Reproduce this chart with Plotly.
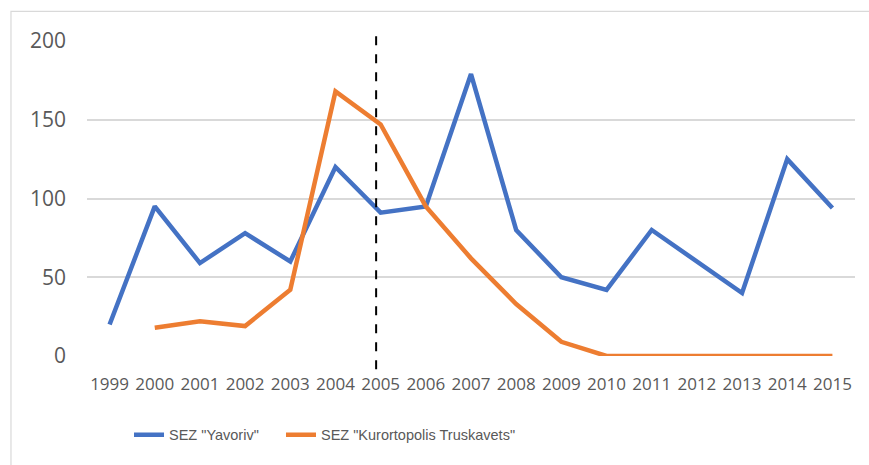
import plotly.graph_objects as go

years = [str(y) for y in range(1999, 2016)]
yavoriv = [20, 95, 59, 78, 60, 120, 91, 95, 179, 80, 50, 42, 80, 60, 40, 125, 94]
truskavets = [None, 18, 22, 19, 42, 168, 147, 95, 62, 33, 9, 0, 0, 0, 0, 0, 0]
y_ticks = [0, 50, 100, 150, 200]
marker_year_index = 5.9  # position of the dashed divider (just before 2005's centre)

BLUE = "#4472C4"
ORANGE = "#ED7D31"
GRID = "#D9D9D9"
TEXT = "#595959"

fig = go.Figure()
fig.add_trace(go.Scatter(
    x=years, y=yavoriv, mode="lines", name='SEZ "Yavoriv"',
    line=dict(color=BLUE, width=4.5), legend="legend",
))
fig.add_trace(go.Scatter(
    x=years, y=truskavets, mode="lines", name='SEZ "Kurortopolis Truskavets"',
    line=dict(color=ORANGE, width=4.5), legend="legend2",
))

# dashed divider at 2005
fig.add_shape(type="line", xref="x", yref="paper",
              x0=marker_year_index, x1=marker_year_index, y0=1.015, y1=-0.054,
              line=dict(color="black", width=2, dash="dash"))

# chart frame
fig.add_shape(type="rect", xref="paper", yref="paper",
              x0=-0.099, x1=1.04, y0=-0.4, y1=1.094,
              line=dict(color=GRID, width=1.2), fillcolor="rgba(0,0,0,0)",
              layer="below")

legend_font = dict(family="Liberation Sans, sans-serif", size=14.5, color=TEXT)
legend_common = dict(orientation="h", xanchor="left", y=-0.25, yanchor="middle",
                     font=legend_font, itemwidth=30, bgcolor="rgba(0,0,0,0)")

fig.update_layout(
    width=869, height=465,
    margin=dict(l=87, r=14, t=41, b=109),
    paper_bgcolor="white", plot_bgcolor="white",
    font=dict(family="Open Sans, Liberation Sans, sans-serif", color=TEXT),
    showlegend=True,
    legend=dict(x=0.0547, **legend_common),
    legend2=dict(x=0.2526, **legend_common),
    xaxis=dict(type="category", showgrid=False, zeroline=False, showline=False,
               ticks="", tickfont=dict(size=17, color=TEXT), tickangle=0,
               ticklabelstandoff=16,
               range=[-0.5, len(years) - 0.5]),
    yaxis=dict(range=[0, 200], tickvals=y_ticks, showgrid=True, gridcolor=GRID, gridwidth=1.5,
               zeroline=False, showline=False, ticks="", ticklabelstandoff=20,
               tickfont=dict(size=21, color=TEXT)),
)

fig.write_html("out.html")
